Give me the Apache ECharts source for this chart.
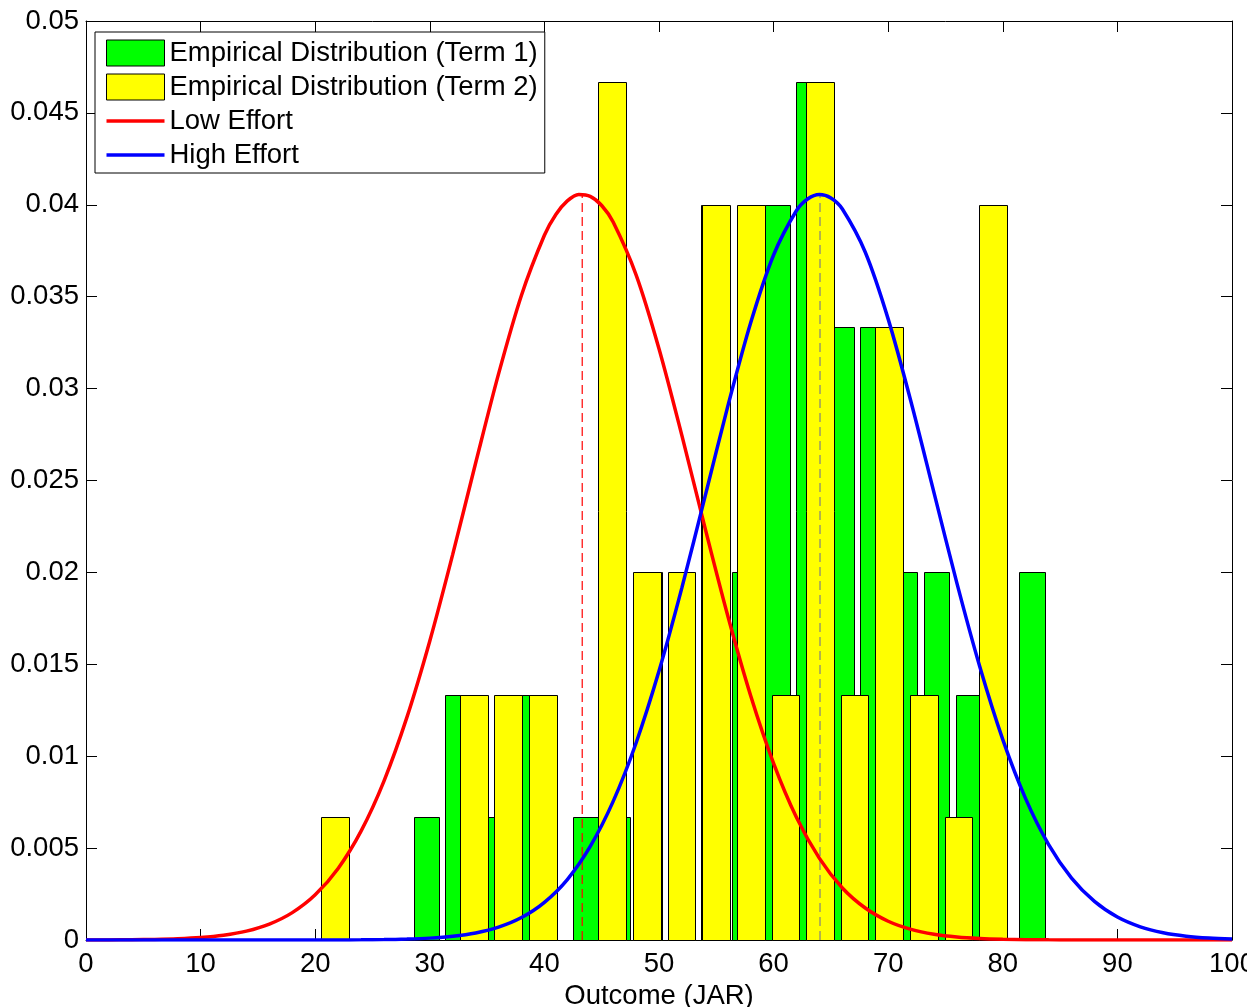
<!DOCTYPE html>
<html lang="en">
<head>
    <meta charset="UTF-8">
    <title>Outcome (JAR)</title>
    <script src="https://cdn.jsdelivr.net/npm/echarts@6/dist/echarts.min.js"></script>
    <style>
        html, body {margin: 0; padding: 0; background: #fff;}
    </style>
</head>
<body>
<div id="main" style="width: 1247px;height: 1007px;"></div>
<script type="text/javascript">
    // histogram bin centres and densities
    var termOneCenters = [29.70, 32.48, 35.26, 38.05, 40.83, 43.61, 46.39, 49.17, 51.96, 54.74,
        57.52, 60.30, 63.08, 65.87, 68.65, 71.43, 74.21, 76.99, 79.78, 82.56];
    var termOneDensity = [0.00667, 0.01333, 0.00667, 0.01333, 0, 0.00667, 0.00667, 0.02, 0.02, 0.04,
        0.02, 0.04, 0.04667, 0.03333, 0.03333, 0.02, 0.02, 0.01333, 0, 0.02];
    var termTwoCenters = [21.74, 24.76, 27.78, 30.81, 33.83, 36.85, 39.87, 42.89, 45.92, 48.94,
        51.96, 54.98, 58.00, 61.03, 64.05, 67.07, 70.09, 73.11, 76.14, 79.16];
    var termTwoDensity = [0.00667, 0, 0, 0, 0.01333, 0.01333, 0.01333, 0, 0.04667, 0.02,
        0.02, 0.04, 0.04, 0.01333, 0.04667, 0.01333, 0.03333, 0.01333, 0.00667, 0.04];
    var termOneBinWidth = 2.78;
    var termTwoBinWidth = 3.02;

    // fitted curves, sampled every 2 units (plus a few points round the peak)
    var lowEffortX = [0, 2, 4, 6, 8, 10, 12, 14, 16, 18, 20, 22, 24, 26, 28, 30, 32, 34, 36, 38,
        40, 41, 42, 43, 44, 45, 46, 48, 50, 52, 54, 56, 58, 60, 62, 64, 66, 68, 70, 72, 74, 76, 78,
        80, 82, 84, 86, 88, 90, 92, 94, 96, 98, 100];
    var lowEffort = [0.0000025, 0.0000061, 0.0000139, 0.0000307, 0.000065, 0.000132, 0.000258, 0.000482, 0.000864, 0.001489,
        0.002459, 0.003895, 0.005925, 0.008648, 0.01211, 0.01627, 0.02098, 0.02595, 0.03080, 0.03508,
        0.03834, 0.03947, 0.04021, 0.04056, 0.04046, 0.03996, 0.03906, 0.03619, 0.03217, 0.02744, 0.02246, 0.01764, 0.01329,
        0.00961, 0.00666, 0.00444, 0.00283, 0.00174, 0.00102, 0.000576, 0.000312, 0.000162, 0.0000808,
        0.0000387, 0.0000177, 0.0000078, 0.0000033, 0.0000013, 0.0000005, 0.0000002, 0.0000001, 0, 0, 0];
    var highEffortX = [0, 2, 4, 6, 8, 10, 12, 14, 16, 18, 20, 22, 24, 26, 28, 30, 32, 34, 36, 38,
        40, 42, 44, 46, 48, 50, 52, 54, 56, 58, 60, 62, 63, 64, 65, 66, 68, 70, 72, 74, 76, 78,
        80, 82, 84, 86, 88, 90, 92, 94, 96, 98, 100];
    var highEffort = [0, 0, 0, 0, 0, 0, 0.0000001, 0.0000001, 0.0000003, 0.0000007,
        0.0000018, 0.0000044, 0.0000103, 0.000023, 0.0000494, 0.000102, 0.000202, 0.000383, 0.000698, 0.00122,
        0.00205, 0.00329, 0.00509, 0.00754, 0.01072, 0.01463, 0.01917, 0.02408, 0.02903, 0.03358,
        0.03727, 0.03969, 0.04033, 0.04056, 0.04037, 0.03977, 0.03742, 0.03378, 0.02926, 0.02433, 0.01940, 0.01485,
        0.01090, 0.00768, 0.00519, 0.00337, 0.00210, 0.00125, 0.000718, 0.000395, 0.000208, 0.000105, 0.0000512];
    var effortMeans = [43.3, 64.05];
    var effortPeaks = [0.0405, 0.0405];

    var FONT = 'Liberation Sans';
    // legend icon for the curves: a thin bar centred in the 58x26 icon box
    var LINE_ICON = 'path://M0,0 M0,11.2 L58,11.2 L58,14.8 L0,14.8 Z M58,26';

    function zip(xs, ys) {
        var out = [];
        for (var i = 0; i < xs.length; i++) {
            out.push([xs[i], ys[i]]);
        }
        return out;
    }

    function histSeries(name, centers, dens, binWidth, color) {
        var w = binWidth * 0.8;
        return {
            name: name,
            type: 'custom',
            coordinateSystem: 'cartesian2d',
            itemStyle: {color: color, borderColor: '#000', borderWidth: 1},
            data: zip(centers, dens),
            renderItem: function (params, api) {
                var c = api.value(0), h = api.value(1);
                if (!h) return null;
                var p0 = api.coord([c - w / 2, h]);
                var p1 = api.coord([c + w / 2, 0]);
                return {
                    type: 'rect',
                    shape: {
                        x: Math.round(p0[0]) + 0.5, y: Math.round(p0[1]) + 0.5,
                        width: Math.round(p1[0]) - Math.round(p0[0]),
                        height: Math.round(p1[1]) - Math.round(p0[1])
                    },
                    style: {fill: color, stroke: '#000', lineWidth: 1}
                };
            }
        };
    }

    function meanLine(i, color) {
        return {
            name: 'mean' + i,
            type: 'line',
            symbol: 'none',
            silent: true,
            data: [[effortMeans[i], 0], [effortMeans[i], effortPeaks[i]]],
            lineStyle: {color: color, width: 1.2, type: [9, 5]}
        };
    }

    var tickAxisX = {
        type: 'value', min: 0, max: 100, interval: 10,
        axisLine: {show: true, onZero: false, lineStyle: {color: '#000', width: 1}},
        axisTick: {show: true, inside: true, length: 11, lineStyle: {color: '#000'}},
        splitLine: {show: false}
    };
    var tickAxisY = {
        type: 'value', min: 0, max: 0.05, interval: 0.005,
        axisLine: {show: true, onZero: false, lineStyle: {color: '#000', width: 1}},
        axisTick: {show: true, inside: true, length: 11, lineStyle: {color: '#000'}},
        splitLine: {show: false}
    };

    var option = {
        animation: false,
        backgroundColor: '#fff',
        textStyle: {fontFamily: FONT},
        grid: {left: 86, top: 21, width: 1146, height: 919, containLabel: false, outerBoundsMode: 'none'},
        legend: {
            orient: 'vertical',
            left: 95, top: 32,
            padding: [7, 7, 4, 11],
            itemWidth: 58, itemHeight: 26, itemGap: 6,
            borderColor: '#000', borderWidth: 1,
            backgroundColor: '#fff',
            textStyle: {fontFamily: FONT, fontSize: 27.5, color: '#000', lineHeight: 26},
            data: [
                {name: 'Empirical Distribution (Term 1)', icon: 'rect',
                    itemStyle: {color: '#00ff00', borderColor: '#000', borderWidth: 1}},
                {name: 'Empirical Distribution (Term 2)', icon: 'rect',
                    itemStyle: {color: '#ffff00', borderColor: '#000', borderWidth: 1}},
                {name: 'Low Effort', icon: LINE_ICON, itemStyle: {color: '#ff0000', borderWidth: 0}},
                {name: 'High Effort', icon: LINE_ICON, itemStyle: {color: '#0000ff', borderWidth: 0}}
            ]
        },
        xAxis: [
            Object.assign({}, tickAxisX, {
                position: 'bottom',
                name: 'Outcome (JAR)', nameLocation: 'middle', nameGap: 33,
                nameTextStyle: {fontFamily: FONT, fontSize: 27.5, color: '#000'},
                axisLabel: {fontFamily: FONT, fontSize: 27.5, color: '#000', margin: 10}
            }),
            Object.assign({}, tickAxisX, {position: 'top', axisLabel: {show: false}})
        ],
        yAxis: [
            Object.assign({}, tickAxisY, {
                position: 'left',
                axisLabel: {
                    fontFamily: FONT, fontSize: 27.5, color: '#000', margin: 7,
                    formatter: function (v) { return String(+v.toFixed(3)); }
                }
            }),
            Object.assign({}, tickAxisY, {position: 'right', axisLabel: {show: false}})
        ],
        series: [
            histSeries('Empirical Distribution (Term 1)', termOneCenters, termOneDensity, termOneBinWidth, '#00ff00'),
            histSeries('Empirical Distribution (Term 2)', termTwoCenters, termTwoDensity, termTwoBinWidth, '#ffff00'),
            meanLine(0, '#ff0000'),
            meanLine(1, '#808080'),
            {
                name: 'Low Effort', type: 'line', symbol: 'none', smooth: 0.3,
                data: zip(lowEffortX, lowEffort),
                lineStyle: {color: '#ff0000', width: 3.5},
                itemStyle: {color: '#ff0000'}
            },
            {
                name: 'High Effort', type: 'line', symbol: 'none', smooth: 0.3,
                data: zip(highEffortX, highEffort),
                lineStyle: {color: '#0000ff', width: 3.5},
                itemStyle: {color: '#0000ff'}
            }
        ]
    };

    var chart = echarts.init(document.getElementById('main'));
    chart.setOption(option);
</script>
</body>
</html>
